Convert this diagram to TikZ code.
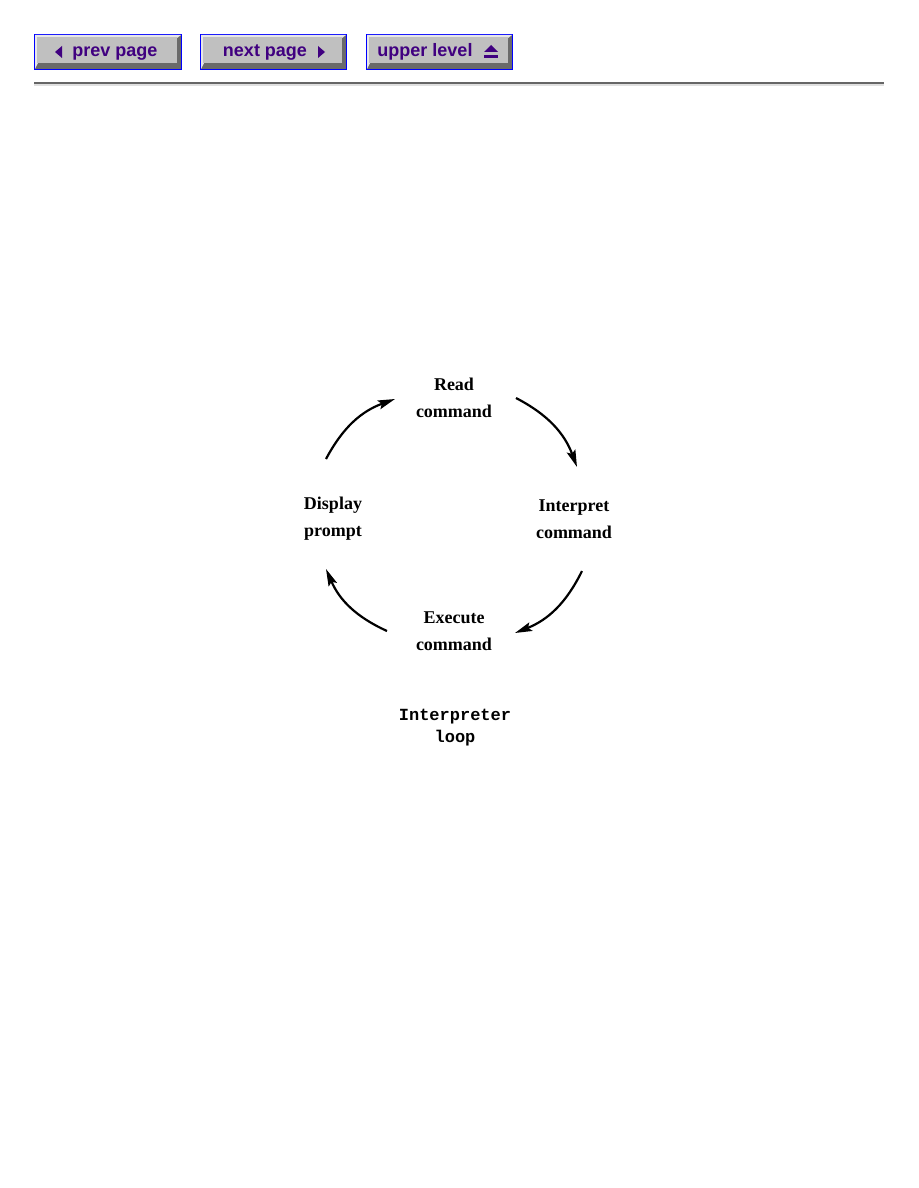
\documentclass[tikz,border=0pt]{standalone}
\usepackage{fontspec}
\setmainfont{Liberation Serif}
\newfontfamily\btnfont{Liberation Sans}
\newfontfamily\monof{Liberation Mono}
\usetikzlibrary{arrows.meta,calc}
\definecolor{btntext}{HTML}{400080}
\definecolor{btnbody}{HTML}{C0C0C0}
\definecolor{btnlight}{HTML}{E8E8E8}
\definecolor{btndark}{HTML}{6A6A6A}
\definecolor{btnborder}{HTML}{0000FF}
\tikzset{
  btnlabel/.style={text=btntext, font=\btnfont\bfseries\fontsize{18}{20}\selectfont, inner sep=0pt, anchor=base},
  steplabel/.style={align=center, font=\bfseries\fontsize{18}{27}\selectfont, inner sep=0pt},
  cyclearrow/.style={line width=2.2pt, -{Stealth[length=17pt,width=9pt,inset=3pt]}},
}
\newcommand\navbutton[2]{%
  \fill[btnborder] (#1,34) rectangle (#2,70);
  \fill[btndark] (#1+1,35) rectangle (#2-1,69);
  \fill[btnlight] (#1+1,35) -- (#2-1,35) -- (#2-5,38) -- (#1+4,63) -- (#1+1,69) -- cycle;
  \fill[btnbody] (#1+3,37) rectangle (#2-5,63);
}
\begin{document}
\begin{tikzpicture}[x=1pt,y=-1pt]
\useasboundingbox[fill=white] (0,0) rectangle (918,1188);
% navigation buttons
\navbutton{34}{182}
\navbutton{200}{347}
\navbutton{366}{513}
\node[btnlabel] (prev) at (115,57) {prev page};
\node[btnlabel] (next) at (265,57) {next page};
\node[btnlabel] (upper) at (425,57) {upper level};
\fill[btntext] (55,52) -- (62,46) -- (62,58) -- cycle;
\fill[btntext] (325,52) -- (318,46) -- (318,58) -- cycle;
\fill[btntext] (491,45) -- (498,52) -- (484,52) -- cycle;
\fill[btntext] (484,55) rectangle (498,58);
% rule
\fill[black!60] (34,82) rectangle (884,84);
\fill[black!12] (34,84) rectangle (884,86);
% cycle labels
\node[steplabel] (read) at (454,398) {Read\\command};
\node[steplabel] (interp) at (574,519) {Interpret\\command};
\node[steplabel] (exec) at (454,631) {Execute\\command};
\node[steplabel] (disp) at (333,519) {Display\\prompt};
\node[align=center, inner sep=0pt, font=\monof\bfseries\fontsize{17}{22}\selectfont] (loop) at (455,728) {Interpreter\\loop};
% arc end points
\coordinate (trs) at (516,398); \coordinate (tre) at (577,467);
\coordinate (brs) at (582,571); \coordinate (bre) at (515,633);
\coordinate (bls) at (387,631); \coordinate (ble) at (326,569);
\coordinate (tls) at (326,459); \coordinate (tle) at (395,399);
% arcs (clockwise on screen)
\draw[cyclearrow] (trs) to[bend left=21] (tre);
\draw[cyclearrow] (brs) to[bend left=21] (bre);
\draw[cyclearrow] (bls) to[bend left=21] (ble);
\draw[cyclearrow] (tls) to[bend left=21] (tle);
\end{tikzpicture}
\end{document}
